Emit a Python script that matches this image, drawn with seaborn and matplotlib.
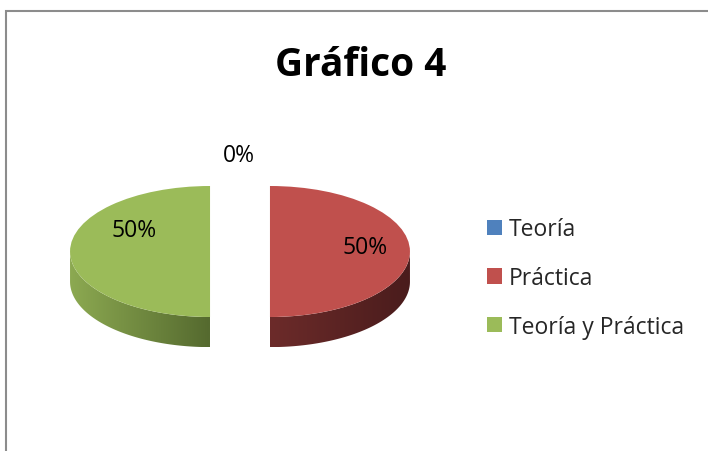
import numpy as np
import seaborn as sns
import matplotlib.pyplot as plt
from matplotlib.patches import Polygon, Rectangle
from matplotlib.colors import LinearSegmentedColormap

# Datos del gráfico
categorias = ['Teoría', 'Práctica', 'Teoría y Práctica']
porcentajes = [0, 50, 50]
colores = ['#4f81bd', '#c0504d', '#9bbb59']
# colores del costado (izquierda -> derecha)
lados = [('#3a5f8c', '#28405e'), ('#6c2b2a', '#4a1c1c'), ('#8ca951', '#556a2f')]
titulo = 'Gráfico 4'

sns.set_theme(style='white')
plt.rcParams['font.family'] = ['Open Sans', 'DejaVu Sans']

fig = plt.figure(figsize=(7.08, 4.52), dpi=100)

# marco del gráfico
fig.add_artist(Rectangle((6 / 708, -0.2), 1.2, 1.2 - 12 / 452, transform=fig.transFigure,
                         fill=False, edgecolor='#8c8c8c', linewidth=1.5))

fig.text(361 / 708, 1 - 65 / 452, titulo, ha='center', va='center',
         fontsize=28, fontweight='bold', color='black')

# ejes del pastel (elipse: a=140 px, b=65.5 px)
cx_px, cy_px, a_px, b_px = 240, 252.5, 140, 65.5
ax = fig.add_axes([(cx_px - 1.5 * a_px) / 708, (452 - (cy_px + 1.6 * b_px)) / 452,
                   3 * a_px / 708, 3 * b_px / 452])

wedges, texts, autotexts = ax.pie(porcentajes, colors=colores, startangle=90, counterclock=False,
                                  explode=[0.214] * 3, autopct='%1.0f%%',
                                  wedgeprops={'linewidth': 0}, textprops={'fontsize': 16.5})
ax.set_aspect('auto')
ax.axis('off')

# costado 3D de cada porción
depth = 0.46
for w, val, (c1, c2) in zip(wedges, porcentajes, lados):
    if val == 0:
        continue
    cx, cy = w.center
    t = np.radians(np.linspace(w.theta1, w.theta2, 300))
    t = t[np.sin(t) <= 1e-9]
    xs = cx + w.r * np.cos(t)
    ys = cy + w.r * np.sin(t)
    pts = np.concatenate([np.column_stack([xs, ys]), np.column_stack([xs, ys - depth])[::-1]])
    poly = Polygon(pts, closed=True, facecolor='none', edgecolor='none')
    ax.add_patch(poly)
    cmap = LinearSegmentedColormap.from_list('lado', [c1, c2])
    im = ax.imshow(np.linspace(0, 1, 200).reshape(1, -1), cmap=cmap, aspect='auto',
                   extent=(xs.min(), xs.max(), ys.min() - depth, ys.max()), zorder=0.5)
    im.set_clip_path(poly)
ax.set_xlim(-1.5, 1.5)
ax.set_ylim(-1.6, 1.4)

# posición de las etiquetas
posiciones = [(-0.01, 1.48), (0.896, 0.07), (-0.757, 0.33)]
for txt, pos in zip(autotexts, posiciones):
    txt.set_position(pos)
    txt.set_color('black')

fig.legend(wedges, categorias, loc='center left', bbox_to_anchor=(487 / 708, 1 - 279 / 452),
           frameon=False, fontsize=16.5, handlelength=0.65, handleheight=0.65,
           handletextpad=0.3, labelspacing=1.08, borderpad=0, borderaxespad=0)

fig.savefig('out.png', dpi=100)
